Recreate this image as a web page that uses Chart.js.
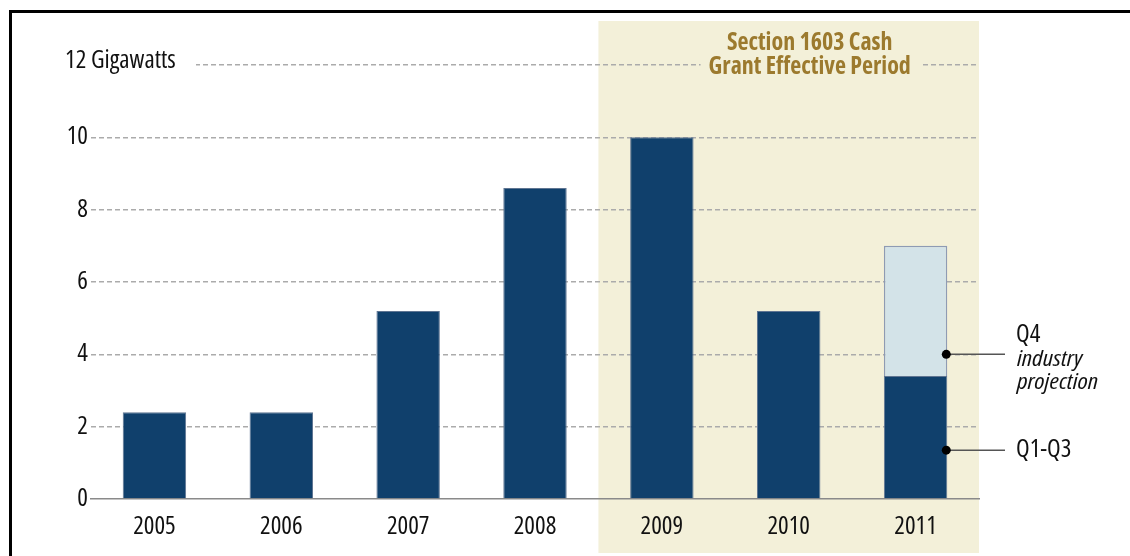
<!DOCTYPE html>
<html>
<head>
<meta charset="utf-8">
<script src="https://cdn.jsdelivr.net/npm/chart.js@4.4.1/dist/chart.umd.min.js"></script>
<style>
  html, body { margin: 0; padding: 0; background: #fff; }
  #wrap { width: 1130px; height: 556px; }
</style>
</head>
<body>
<div id="wrap"><canvas id="chart" width="1130" height="556"></canvas></div>
<script>
// ── data (GW of capacity per year) ─────────────────────────
const years = ['2005', '2006', '2007', '2008', '2009', '2010', '2011'];
const builtGW = [2.4, 2.4, 5.2, 8.6, 10.0, 5.2, 3.4];          // Q1-Q3 for 2011
const projectedGW = [null, null, null, null, null, null, 3.6];  // Q4 2011 projection
const yTicks = [0, 2, 4, 6, 8, 10, 12];
const grantFrom = 3.5;      // band starts between 2008 and 2009
const q4Marker = 4;         // where the callout dots sit
const q13Marker = 1.35;

const FONT = "'Open Sans', 'Noto Sans', sans-serif";
const NAVY = '#10406c';
const LIGHT = '#d3e3e8';
const BAND = '#f3f0d9';
const GOLD = '#9c7a2e';
const INK = '#111';

const decor = {
  id: 'decor',
  beforeDraw(chart) {
    const { ctx, chartArea, scales: { x } } = chart;
    ctx.save();
    ctx.fillStyle = '#fff';
    ctx.fillRect(0, 0, chart.width, chart.height);
    const left = x.getPixelForValue(grantFrom);
    ctx.fillStyle = BAND;
    ctx.fillRect(left, 21, chartArea.right - left, 532);
    ctx.restore();
  },
  beforeDatasetsDraw(chart) {
    const { ctx, chartArea, scales: { x, y } } = chart;
    const top = y.getPixelForValue(12);
    ctx.save();
    // y-axis title label sits on the top gridline
    ctx.fillStyle = '#fff';
    ctx.fillRect(chartArea.left - 2, top - 8, 198 - chartArea.left, 16);
    ctx.font = '500 condensed 25px ' + FONT;
    ctx.fillStyle = INK;
    ctx.textAlign = 'left';
    ctx.textBaseline = 'middle';
    ctx.fillText('12 Gigawatts', 65, top - 4);

    // band heading (sits a bit right of the band centre)
    const mid = (x.getPixelForValue(grantFrom) + chartArea.right) / 2 + 21;
    ctx.font = 'bold condensed 24px ' + FONT;
    ctx.textAlign = 'center';
    const w = ctx.measureText('Grant Effective Period').width;
    ctx.fillStyle = BAND;
    ctx.fillRect(mid - w / 2 - 8, top - 10, w + 18, 20);
    ctx.fillStyle = GOLD;
    ctx.fillText('Section 1603 Cash', mid, 43);
    ctx.fillText('Grant Effective Period', mid, 67);
    ctx.restore();
  },
  afterDraw(chart) {
    const { ctx, scales: { y } } = chart;
    const bar = chart.getDatasetMeta(1).data[6];
    const bx = bar.x + bar.width / 2;
    ctx.save();
    const callout = (val) => {
      const py = y.getPixelForValue(val);
      ctx.strokeStyle = '#555';
      ctx.lineWidth = 1.5;
      ctx.beginPath();
      ctx.moveTo(bx, py);
      ctx.lineTo(1005, py);
      ctx.stroke();
      ctx.fillStyle = '#000';
      ctx.beginPath();
      ctx.arc(bx - 1, py, 4.5, 0, Math.PI * 2);
      ctx.fill();
      return py;
    };
    const p4 = callout(q4Marker);
    const p1 = callout(q13Marker);
    ctx.fillStyle = INK;
    ctx.textAlign = 'left';
    ctx.textBaseline = 'middle';
    ctx.font = '500 condensed 25px ' + FONT;
    ctx.fillText('Q4', 1016, p4 - 19);
    ctx.fillText('Q1-Q3', 1016, p1);

    // italic note: stretch it to the original's width (~81px for "projection")
    ctx.font = 'italic 500 condensed 21px ' + FONT;
    const sx = 81 / ctx.measureText('projection').width;
    ctx.save();
    ctx.translate(1017, p4);
    ctx.scale(sx, 1);
    ctx.fillText('industry', 0, 6);
    ctx.fillText('projection', 0, 29);
    ctx.restore();

    // frame
    ctx.fillStyle = '#000';
    ctx.fillRect(10, 10, chart.width - 10, 3);
    ctx.fillRect(9, 10, 3, chart.height - 10);
    ctx.restore();
  }
};

// weight is passed straight into the canvas font string, so the stretch keyword rides along
const tickFont = { family: FONT, size: 25, weight: '500 condensed' };

new Chart(document.getElementById('chart'), {
  type: 'bar',
  data: {
    labels: years,
    datasets: [
      { label: 'Q1-Q3', data: builtGW, backgroundColor: NAVY, borderColor: '#5f7592', borderWidth: 1 },
      { label: 'Q4 industry projection', data: projectedGW, backgroundColor: LIGHT, borderColor: '#8e9bb4', borderWidth: 1.5 }
    ]
  },
  options: {
    responsive: false,
    animation: false,
    devicePixelRatio: 1,
    layout: { padding: { left: 0, top: 65, right: 151, bottom: 0 } },
    datasets: { bar: { barPercentage: 1, categoryPercentage: 0.5 } },
    plugins: { legend: { display: false }, tooltip: { enabled: false } },
    scales: {
      x: {
        stacked: true,
        grid: { display: false },
        border: { display: true, color: '#8a8a8a', width: 1.5 },
        ticks: { color: INK, font: tickFont, padding: 5 },
        afterFit: s => { s.height = 57; }
      },
      y: {
        stacked: true,
        min: 0,
        max: 12,
        afterBuildTicks: s => { s.ticks = yTicks.map(v => ({ value: v })); },
        grid: {
          drawTicks: false,
          lineWidth: 1.5,
          color: c => (c.tick && c.tick.value === 0 ? 'rgba(0,0,0,0)' : '#ababab')
        },
        border: { display: false, dash: [5, 3] },
        ticks: {
          color: INK,
          font: tickFont,
          padding: 3,
          callback: v => (v === 12 ? '' : v)
        },
        afterFit: s => { s.width = 91; }
      }
    }
  },
  plugins: [decor]
});
</script>
</body>
</html>
